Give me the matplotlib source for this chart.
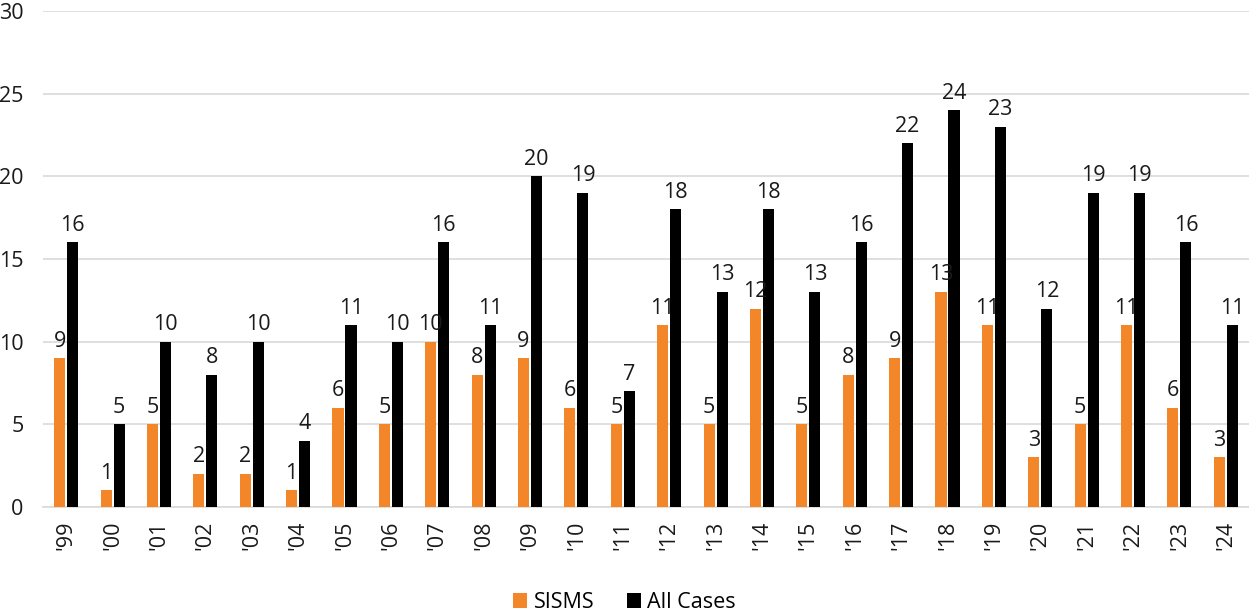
import matplotlib
matplotlib.use("Agg")
import matplotlib.pyplot as plt
import numpy as np

years = ["'99", "'00", "'01", "'02", "'03", "'04", "'05", "'06", "'07", "'08", "'09", "'10",
         "'11", "'12", "'13", "'14", "'15", "'16", "'17", "'18", "'19", "'20", "'21", "'22", "'23", "'24"]
sisms = [9, 1, 5, 2, 2, 1, 6, 5, 10, 8, 9, 6, 5, 11, 5, 12, 5, 8, 9, 13, 11, 3, 5, 11, 6, 3]
all_cases = [16, 5, 10, 8, 10, 4, 11, 10, 16, 11, 20, 19, 7, 18, 13, 18, 13, 16, 22, 24, 23, 12, 19, 19, 16, 11]

plt.rcParams['font.family'] = ['Open Sans', 'DejaVu Sans']
FS = 15.5

fig = plt.figure(figsize=(12.49, 6.14), dpi=100)
ax = fig.add_axes([43/1249, 1 - 507/614, 1206/1249, 496/614])

x = np.arange(len(years))
w = 0.24
orange = '#F4862A'
black = '#000000'
b1 = ax.bar(x - w/2 - 0.02, sisms, width=w, color=orange, label='SISMS', zorder=3)
b2 = ax.bar(x + w/2 + 0.02, all_cases, width=w, color=black, label='All Cases', zorder=3)
for rect, v in zip(b1, sisms):
    ax.text(rect.get_x() + rect.get_width()/2, v + 0.4, str(v), ha='center', va='bottom', fontsize=FS, color='#1a1a1a')
for rect, v in zip(b2, all_cases):
    ax.text(rect.get_x() + rect.get_width()/2, v + 0.4, str(v), ha='center', va='bottom', fontsize=FS, color='#1a1a1a')

ax.set_xlim(-0.5, len(years) - 0.5)
ax.set_ylim(0, 30)
ax.set_yticks(range(0, 31, 5))
ax.yaxis.grid(True, color='#d9d9d9', linewidth=1.2, zorder=0)
ax.set_axisbelow(True)
for s in ['top', 'right', 'left']:
    ax.spines[s].set_visible(False)
ax.spines['bottom'].set_color('#d9d9d9')
ax.spines['bottom'].set_linewidth(1.2)
ax.tick_params(axis='both', length=0, labelsize=FS, colors='#1a1a1a')
ax.tick_params(axis='y', pad=14)
ax.tick_params(axis='x', pad=10)
ax.set_xticks(x)
ax.set_xticklabels(years, rotation=90)
for lbl in ax.get_yticklabels():
    lbl.set_horizontalalignment('right')

fig.legend(handles=[b1, b2], labels=['SISMS', 'All Cases'], loc='lower center', ncol=2,
           bbox_to_anchor=(0.5, -0.03), frameon=False, fontsize=FS, handlelength=0.65,
           handleheight=0.65, handletextpad=0.3, columnspacing=1.5)

fig.savefig('out.png', dpi=100)
